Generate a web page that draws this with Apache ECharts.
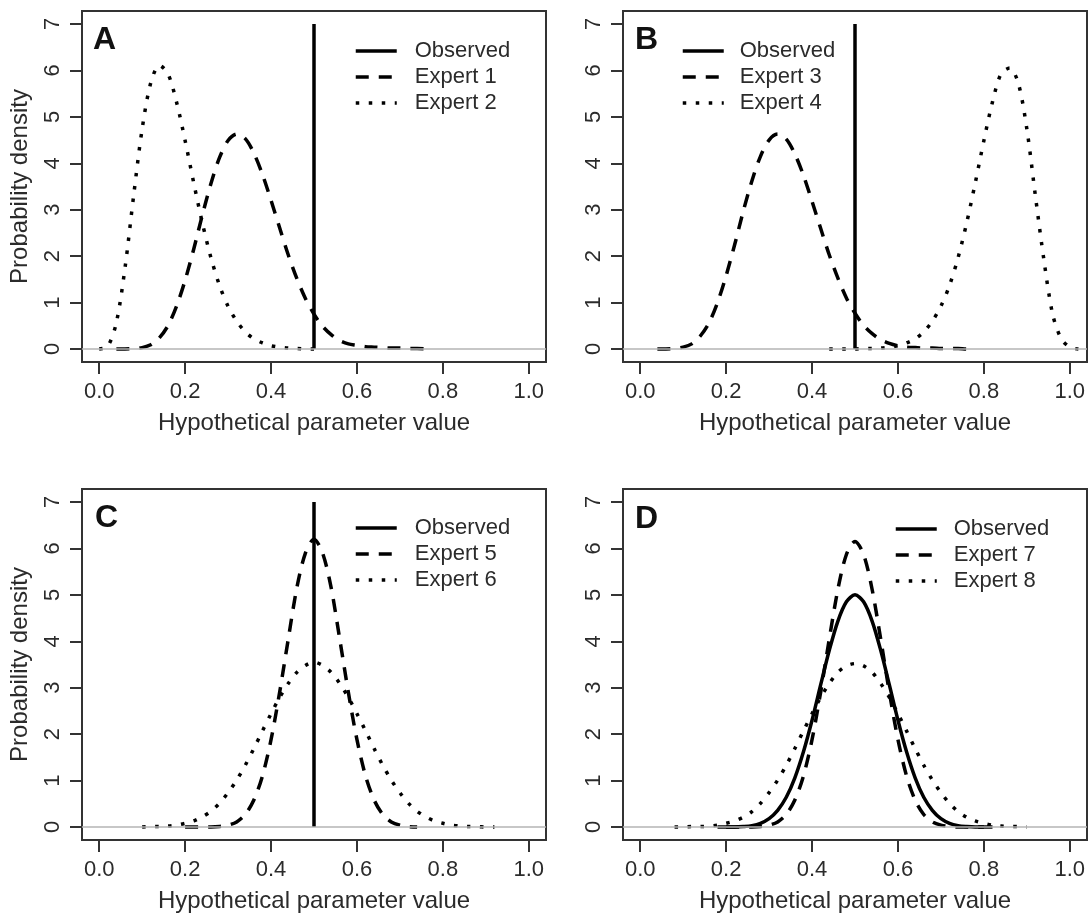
<!DOCTYPE html>
<html>
<head>
<meta charset="utf-8">
<script src="https://cdn.jsdelivr.net/npm/echarts@6/dist/echarts.min.js"></script>
<style>
html,body{margin:0;padding:0;background:#fff;}
#chart{width:1091px;height:917px;}
</style>
</head>
<body>
<div id="chart"></div>
<script>
// ---------- data ----------
const xTickValues = [0, 0.2, 0.4, 0.6, 0.8, 1.0];
const yTickValues = [0, 1, 2, 3, 4, 5, 6, 7];
const panelLetters = ['A', 'B', 'C', 'D'];
const xTitle = 'Hypothetical parameter value';
const yTitle = 'Probability density';

// Observed value (vertical line) in panels A, B, C
const obsLineX = [0.5, 0.5];
const obsLineY = [0, 7];

// Panel A
const e1x = [0.04,0.06,0.08,0.10,0.12,0.14,0.16,0.18,0.20,0.22,0.24,0.26,0.28,0.30,0.32,0.34,0.36,0.38,0.40,0.42,0.44,0.46,0.48,0.50,0.52,0.54,0.56,0.58,0.60,0.62,0.64,0.66,0.68,0.70,0.72,0.74,0.76];
const e1y = [0.00,0.00,0.01,0.03,0.09,0.24,0.50,0.92,1.48,2.15,2.88,3.56,4.12,4.49,4.63,4.53,4.22,3.76,3.20,2.61,2.03,1.52,1.09,0.75,0.49,0.31,0.18,0.11,0.08,0.05,0.04,0.03,0.02,0.02,0.01,0.01,0.00];
const e2x = [0.00,0.02,0.04,0.06,0.08,0.10,0.12,0.14,0.16,0.18,0.20,0.22,0.24,0.26,0.28,0.30,0.32,0.34,0.36,0.38,0.40,0.42,0.44,0.46,0.48,0.50];
const e2y = [0.00,0.06,0.57,1.74,3.29,4.74,5.73,6.11,5.93,5.32,4.49,3.58,2.72,1.97,1.37,0.92,0.60,0.37,0.22,0.13,0.07,0.04,0.02,0.01,0.00,0.00];

// Panel B
const e3x = [0.04,0.06,0.08,0.10,0.12,0.14,0.16,0.18,0.20,0.22,0.24,0.26,0.28,0.30,0.32,0.34,0.36,0.38,0.40,0.42,0.44,0.46,0.48,0.50,0.52,0.54,0.56,0.58,0.60,0.62,0.64,0.66,0.68,0.70,0.72,0.74,0.76,0.78];
const e3y = [0.00,0.00,0.01,0.04,0.11,0.28,0.56,1.00,1.58,2.25,2.97,3.62,4.15,4.50,4.63,4.52,4.20,3.74,3.18,2.60,2.03,1.53,1.10,0.77,0.51,0.33,0.20,0.12,0.07,0.04,0.03,0.02,0.02,0.01,0.01,0.01,0.00,0.00];
const e4x = [0.44,0.46,0.48,0.50,0.52,0.54,0.56,0.58,0.60,0.62,0.64,0.66,0.68,0.70,0.72,0.74,0.76,0.78,0.80,0.82,0.84,0.86,0.88,0.90,0.92,0.94,0.96,0.98,1.00,1.02];
const e4y = [0.00,0.00,0.00,0.00,0.01,0.01,0.02,0.04,0.07,0.13,0.22,0.37,0.60,0.92,1.37,1.97,2.72,3.58,4.49,5.32,5.93,6.05,5.73,4.74,3.29,1.90,0.75,0.22,0.04,0.00];

// Panel C
const e5x = [0.20,0.22,0.24,0.26,0.28,0.30,0.32,0.34,0.36,0.38,0.40,0.42,0.44,0.46,0.48,0.50,0.52,0.54,0.56,0.58,0.60,0.62,0.64,0.66,0.68,0.70,0.72,0.74];
const e5y = [0.00,0.00,0.00,0.00,0.01,0.04,0.11,0.27,0.58,1.10,1.88,2.90,4.04,5.15,5.90,6.20,5.90,5.15,4.04,2.90,1.88,1.10,0.58,0.27,0.11,0.04,0.01,0.00];
const e6x = [0.10,0.12,0.14,0.16,0.18,0.20,0.22,0.24,0.26,0.28,0.30,0.32,0.34,0.36,0.38,0.40,0.42,0.44,0.46,0.48,0.50,0.52,0.54,0.56,0.58,0.60,0.62,0.64,0.66,0.68,0.70,0.72,0.74,0.76,0.78,0.80,0.82,0.84,0.86,0.88,0.90,0.92];
const e6y = [0.00,0.01,0.01,0.02,0.04,0.08,0.13,0.22,0.34,0.51,0.74,1.01,1.33,1.69,2.07,2.44,2.79,3.09,3.33,3.48,3.55,3.48,3.33,3.09,2.79,2.44,2.07,1.69,1.33,1.01,0.74,0.51,0.34,0.22,0.13,0.08,0.04,0.02,0.01,0.01,0.00,0.00];

// Panel D
const obsDx = [0.18,0.20,0.22,0.24,0.26,0.28,0.30,0.32,0.34,0.36,0.38,0.40,0.42,0.44,0.46,0.48,0.50,0.52,0.54,0.56,0.58,0.60,0.62,0.64,0.66,0.68,0.70,0.72,0.74,0.76,0.78,0.80,0.82];
const obsDy = [0.00,0.00,0.00,0.01,0.03,0.08,0.18,0.36,0.64,1.06,1.62,2.30,3.06,3.80,4.43,4.85,5.00,4.85,4.43,3.80,3.06,2.30,1.62,1.06,0.64,0.36,0.18,0.08,0.03,0.01,0.00,0.00,0.00];
const e7x = [0.20,0.22,0.24,0.26,0.28,0.30,0.32,0.34,0.36,0.38,0.40,0.42,0.44,0.46,0.48,0.50,0.52,0.54,0.56,0.58,0.60,0.62,0.64,0.66,0.68,0.70,0.72,0.74,0.76,0.78,0.80];
const e7y = [0.00,0.00,0.00,0.00,0.01,0.04,0.11,0.27,0.58,1.10,1.88,2.90,4.04,5.11,5.87,6.15,5.87,5.11,4.04,2.90,1.88,1.10,0.58,0.27,0.11,0.04,0.01,0.00,0.00,0.00,0.00];
const e8x = [0.08,0.10,0.12,0.14,0.16,0.18,0.20,0.22,0.24,0.26,0.28,0.30,0.32,0.34,0.36,0.38,0.40,0.42,0.44,0.46,0.48,0.50,0.52,0.54,0.56,0.58,0.60,0.62,0.64,0.66,0.68,0.70,0.72,0.74,0.76,0.78,0.80,0.82,0.84,0.86,0.88,0.90];
const e8y = [0.00,0.00,0.01,0.01,0.02,0.04,0.08,0.13,0.21,0.33,0.51,0.74,1.01,1.33,1.69,2.07,2.44,2.79,3.09,3.33,3.47,3.52,3.47,3.33,3.09,2.79,2.44,2.07,1.69,1.33,1.01,0.74,0.51,0.33,0.21,0.13,0.08,0.04,0.02,0.01,0.01,0.00];

const legendNames = [
  ['Observed', 'Expert 1', 'Expert 2'],
  ['Observed', 'Expert 3', 'Expert 4'],
  ['Observed', 'Expert 5', 'Expert 6'],
  ['Observed', 'Expert 7', 'Expert 8']
];

// ---------- layout ----------
const FONT = 'Liberation Sans, Arial, sans-serif';
const TXT = '#2b2b2b';
const grids = [
  {left: 82,  top: 11,  width: 464, height: 351},
  {left: 623, top: 11,  width: 464, height: 351},
  {left: 82,  top: 489, width: 464, height: 351},
  {left: 623, top: 489, width: 464, height: 351}
];
const letterPos = [[93, 24], [635, 24], [95, 502], [635, 503]];
const legendPos = [[354, 38], [681, 38], [354, 515], [894, 516]];
const legendPad = [13, 11, 13, 12];

const pts = (xs, ys) => xs.map((x, i) => [x, ys[i]]);
const DASH = [13, 10];
const DOT = [3.5, 9.5];

function line(name, xs, ys, idx, type, smooth) {
  return {
    type: 'line', name: name, data: pts(xs, ys),
    xAxisIndex: idx, yAxisIndex: idx,
    symbol: 'none', smooth: smooth ? 0.3 : false,
    lineStyle: {color: '#000', width: 3.5, type: type, cap: 'butt', join: 'round'},
    itemStyle: {color: '#000'},
    z: 3, silent: true
  };
}
function zeroLine(idx) {
  return {
    type: 'line', name: '_zero' + idx, data: [],
    xAxisIndex: idx, yAxisIndex: idx, symbol: 'none',
    markLine: {
      silent: true, symbol: ['none', 'none'], label: {show: false},
      lineStyle: {color: '#b4b4b4', width: 1.5, type: 'solid'},
      data: [{yAxis: 0}], animation: false
    },
    z: 1
  };
}

const series = [
  zeroLine(0), zeroLine(1), zeroLine(2), zeroLine(3),
  line('Observed', obsLineX, obsLineY, 0, 'solid', false),
  line('Expert 1', e1x, e1y, 0, DASH, true),
  line('Expert 2', e2x, e2y, 0, DOT, true),
  line('Observed', obsLineX, obsLineY, 1, 'solid', false),
  line('Expert 3', e3x, e3y, 1, DASH, true),
  line('Expert 4', e4x, e4y, 1, DOT, true),
  line('Observed', obsLineX, obsLineY, 2, 'solid', false),
  line('Expert 5', e5x, e5y, 2, DASH, true),
  line('Expert 6', e6x, e6y, 2, DOT, true),
  line('Observed', obsDx, obsDy, 3, 'solid', true),
  line('Expert 7', e7x, e7y, 3, DASH, true),
  line('Expert 8', e8x, e8y, 3, DOT, true)
];

const xAxes = grids.map((g, i) => ({
  type: 'value', gridIndex: i, min: -0.04, max: 1.04,
  splitLine: {show: false},
  axisLine: {show: false, onZero: false},
  axisTick: {show: true, customValues: xTickValues, length: 12, lineStyle: {color: '#333', width: 2}},
  axisLabel: {show: true, customValues: xTickValues, margin: 19, fontSize: 22, color: TXT, fontFamily: FONT,
              formatter: v => v.toFixed(1)},
  name: xTitle, nameLocation: 'middle', nameGap: 49,
  nameTextStyle: {fontSize: 24, color: TXT, fontFamily: FONT}
}));
const yAxes = grids.map((g, i) => ({
  type: 'value', gridIndex: i, min: -0.28, max: 7.28,
  splitLine: {show: false},
  axisLine: {show: false, onZero: false},
  axisTick: {show: true, customValues: yTickValues, length: 12, lineStyle: {color: '#333', width: 2}},
  axisLabel: {show: true, customValues: yTickValues, rotate: 90, margin: 18, fontSize: 22, color: TXT, fontFamily: FONT,
              formatter: v => String(v)},
  name: (i % 2 === 0) ? yTitle : '', nameLocation: 'middle', nameGap: 50,
  nameTextStyle: {fontSize: 24, color: TXT, fontFamily: FONT}
}));

const option = {
  animation: false,
  backgroundColor: '#fff',
  grid: grids.map(g => Object.assign({show: true, borderColor: '#333', borderWidth: 2, backgroundColor: 'transparent', containLabel: false}, g)),
  xAxis: xAxes,
  yAxis: yAxes,
  title: panelLetters.map((t, i) => ({
    text: t, left: letterPos[i][0], top: letterPos[i][1], padding: 0,
    textStyle: {fontSize: 32, fontWeight: 'bold', color: '#111', fontFamily: FONT}
  })),
  legend: legendNames.map((names, i) => ({
    data: names, orient: 'vertical', left: legendPos[i][0], top: legendPos[i][1],
    padding: 0, itemGap: 0, itemWidth: 41, itemHeight: 14, selectedMode: false,
    lineStyle: {width: 3.5},
    itemStyle: {color: 'rgba(0,0,0,0)', borderColor: 'rgba(0,0,0,0)', borderWidth: 0, opacity: 0},
    textStyle: {fontSize: 22, lineHeight: 26, color: TXT, fontFamily: FONT, padding: [0, 0, 0, legendPad[i]]}
  })),
  series: series
};

const chart = echarts.init(document.getElementById('chart'), null, {renderer: 'canvas'});
chart.setOption(option);
</script>
</body>
</html>
